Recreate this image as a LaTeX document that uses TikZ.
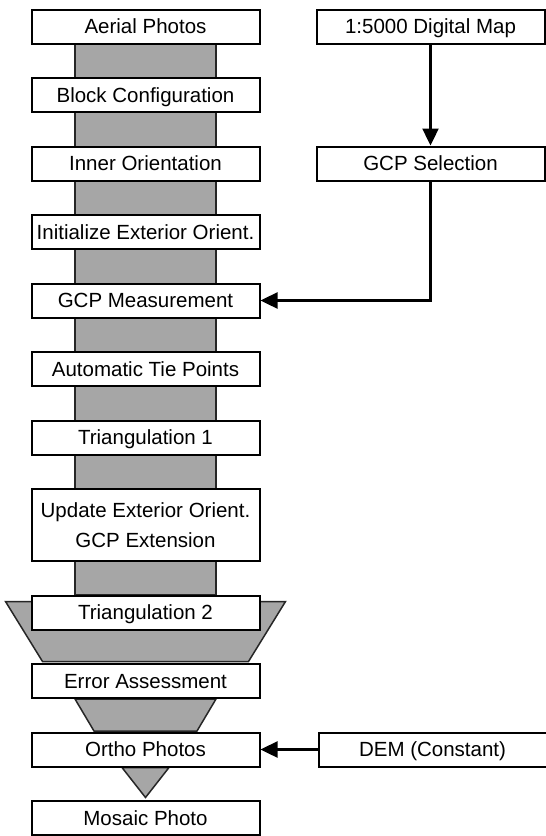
\documentclass[tikz,border=0pt]{standalone}
\usepackage{fontspec}
\setsansfont{Liberation Sans}
\tikzset{every picture/.style={/utils/exec={\sffamily}}}
\usetikzlibrary{calc}
\usetikzlibrary{positioning}
\usetikzlibrary{arrows.meta, backgrounds}

\tikzset{
  procbox/.style={draw, line width=2pt, fill=white, minimum width=228pt, minimum height=34pt,
    inner sep=0pt, text height=16pt, text depth=1.5pt, font=\fontsize{20.5}{30}\selectfont},
  flow/.style={draw=black!85, fill=black!35, line width=1.5pt},
  feed/.style={line width=2.4pt, -{Triangle[length=17pt,width=16pt]}}
}

\begin{document}
\begin{tikzpicture}[node distance=32.5pt]
  \useasboundingbox (0,0) rectangle (546pt,-836pt);

  \node [procbox] (aerial) at (145.5pt,-26.5pt) {Aerial Photos};
  \node [procbox, below=of aerial] (block) {Block Configuration};
  \node [procbox, below=of block] (inner) {Inner Orientation};
  \node [procbox, below=of inner] (initext) {Initialize Exterior Orient.};
  \node [procbox, below=of initext] (gcpmeas) {GCP Measurement};
  \node [procbox, below=of gcpmeas] (tiepts) {Automatic Tie Points};
  \node [procbox, below=of tiepts] (tri1) {Triangulation 1};
  \node [procbox, below=of tri1, minimum height=72pt, align=center, text height={}, text depth={}]
    (update) {Update Exterior Orient.\\GCP Extension};
  \node [procbox, below=of update] (tri2) {Triangulation 2};
  \node [procbox, below=of tri2] (error) {Error Assessment};
  \node [procbox, below=of error] (ortho) {Ortho Photos};
  \node [procbox, below=of ortho] (mosaic) {Mosaic Photo};

  \node [procbox, right=55pt of aerial] (digmap) {1:5000 Digital Map};
  \node [procbox, right=55pt of inner] (gcpsel) {GCP Selection};
  \node [procbox, right=57pt of ortho] (dem) {DEM (Constant)};

  % control points:
  \draw [feed] (digmap) -- (gcpsel);
  \draw [feed] (gcpsel) |- (gcpmeas);

  % height model:
  \draw [feed] (dem) -- (ortho);

  \begin{scope}[on background layer]
    % main strip:
    \draw [flow] (aerial.south) ++(-70.5pt,0) rectangle ($(tri2.north)+(70.5pt,0)$);

    % funnels:
    \draw [flow] (tri2.north) ++(-140pt,-7pt) -- ++(280pt,0) -- ++(-37pt,-60pt) -- ++(-206pt,0) -- cycle;
    \draw [flow] (error.south) ++(-70.5pt,0) -- ++(141pt,0) -- ++(-19pt,-32pt) -- ++(-103pt,0) -- cycle;
    \draw [flow] (ortho.south) ++(-23.5pt,0) -- ++(47pt,0) -- ++(-23.5pt,-30pt) -- cycle;
  \end{scope}

\end{tikzpicture}
\end{document}
